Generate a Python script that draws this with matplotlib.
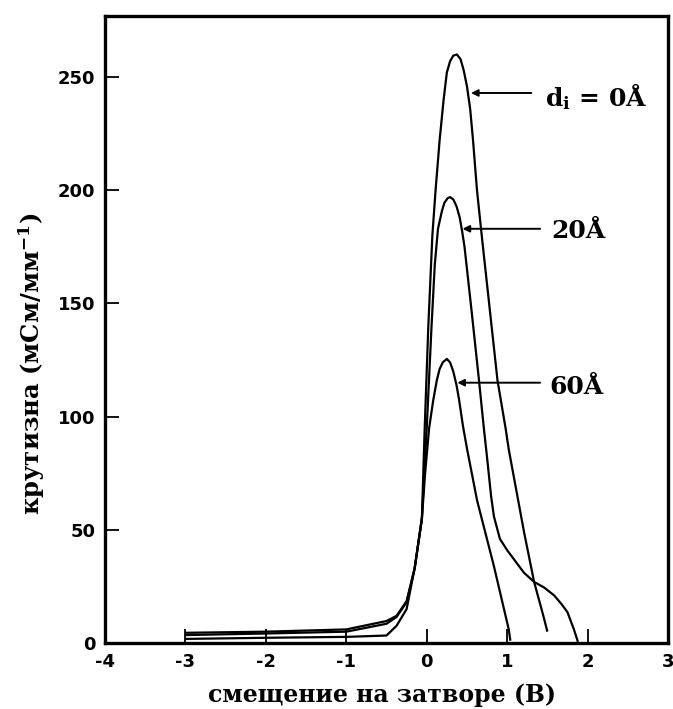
import matplotlib
matplotlib.use("Agg")
import matplotlib.pyplot as plt

plt.rcParams['axes.unicode_minus'] = False
plt.rcParams['mathtext.default'] = 'regular'

# curves: gate bias (V) -> transconductance
x_0 = [-3.0, -2.0, -1.0, -0.5, -0.375, -0.25, -0.15, -0.06, -0.025, 0.02, 0.07, 0.11,
       0.16, 0.21, 0.25, 0.29, 0.33, 0.375, 0.42, 0.46, 0.50, 0.54, 0.576, 0.625,
       0.69, 0.88, 0.98, 1.02, 1.21, 1.335, 1.45, 1.50]
y_0 = [4.5, 5.0, 6.0, 9.7, 12, 18.5, 33, 55, 95, 140, 180, 200,
       222, 240, 252, 257, 259.5, 260, 258, 253, 246, 236, 222, 200,
       178, 116, 95, 85.5, 49, 27, 12, 5]

x_20 = [-3.0, -2.0, -1.0, -0.5, -0.375, -0.25, -0.15, -0.06, 0.0, 0.06, 0.10, 0.14,
        0.19, 0.22, 0.26, 0.29, 0.33, 0.37, 0.41, 0.44, 0.47, 0.56, 0.65, 0.71,
        0.75, 0.80, 0.835, 0.91, 1.0, 1.21, 1.335, 1.46, 1.585, 1.68, 1.75, 1.83, 1.88]
y_20 = [3.5, 4.2, 5.0, 8.5, 11.5, 18, 33, 55, 95, 140, 167, 183,
        191, 194.5, 196.5, 197, 196, 193, 188, 182, 175, 146, 116, 95,
        82, 65, 56, 46, 41, 31, 27, 24.5, 21, 17, 13.6, 6, 0.5]

x_60 = [-3.0, -2.0, -1.0, -0.5, -0.375, -0.25, -0.15, -0.06, -0.02, 0.03, 0.08, 0.125,
        0.16, 0.20, 0.25, 0.29, 0.33, 0.37, 0.40, 0.45, 0.50, 0.626, 0.835, 1.02, 1.04]
y_60 = [1.8, 2.3, 2.7, 3.3, 7.6, 15, 33, 55, 75, 95, 107, 116,
        121, 124, 125.5, 124, 120, 114, 108, 96, 86, 63, 34, 6, 1]

xticks = [-4, -3, -2, -1, 0, 1, 2, 3]
yticks = [0, 50, 100, 150, 200, 250]

# labels: text, text anchor (x, y), arrow tip (x, y), arrow tail x
labels = ["d$_\\mathregular{i}$ = 0Å", "20Å", "60Å"]
label_xy = [(1.475, 237), (1.55, 179), (1.525, 110)]
tip_xy = [(0.55, 243), (0.445, 183), (0.38, 115)]
tail_x = [1.30, 1.41, 1.41]

fig = plt.figure(figsize=(6.73, 7.09), dpi=100)
ax = fig.add_axes([0.156, 0.0931, 0.8366, 0.8843])

for xs, ys in [(x_0, y_0), (x_20, y_20), (x_60, y_60)]:
    ax.plot(xs, ys, color='black', lw=1.6, solid_capstyle='butt')

for text, (tx, ty), (px, py), qx in zip(labels, label_xy, tip_xy, tail_x):
    ax.annotate('', xy=(px, py), xytext=(qx, py),
                arrowprops=dict(arrowstyle='-|>', color='black', lw=1.4,
                                mutation_scale=10, shrinkA=0, shrinkB=0))
    ax.text(tx, ty, text, fontsize=18, fontweight='bold', family='DejaVu Serif',
            ha='left', va='baseline')

ax.set_xlim(-4, 3)
ax.set_ylim(0, 277)
ax.set_xticks(xticks)
ax.set_yticks(yticks)
ax.set_xticklabels([str(t) for t in xticks])
ax.set_yticklabels([str(t) for t in yticks])

for s in ['left', 'bottom', 'right', 'top']:
    ax.spines[s].set_linewidth(2.4)
ax.tick_params(direction='in', length=10, width=1.3, top=False, right=False,
               labelsize=13, pad=7)
for lab in ax.get_xticklabels() + ax.get_yticklabels():
    lab.set_fontweight('bold')
    lab.set_family('DejaVu Sans')

ax.set_xlabel('смещение на затворе (В)', fontsize=17, fontweight='bold',
              family='DejaVu Serif')
ax.set_ylabel('крутизна (мСм/мм$^{\\mathregular{-1}}$)', fontsize=17.5,
              fontweight='bold', family='DejaVu Serif')
ax.xaxis.set_label_coords(0.492, -0.064)
ax.yaxis.set_label_coords(-0.103, 0.445)

fig.savefig('out.png', dpi=100)
